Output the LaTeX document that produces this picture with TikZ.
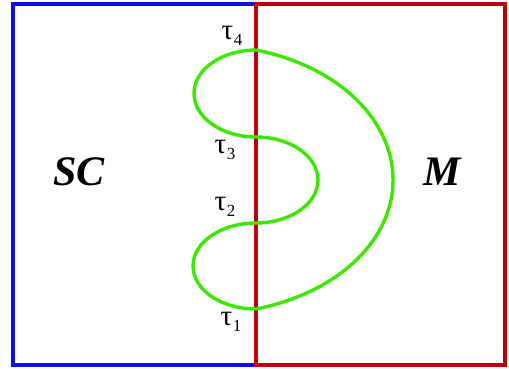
\documentclass[tikz,border=0pt]{standalone}
\usepackage{fontspec}
\setmainfont{Liberation Serif}

\definecolor{scblue}{RGB}{15,15,235}
\definecolor{mred}{RGB}{185,0,10}
\definecolor{pathgreen}{RGB}{60,232,0}

\newcommand{\taulab}[1]{τ\kern0.5pt\raisebox{-0.45ex}{\fontsize{17}{17}\selectfont #1}}

\begin{document}
\begin{tikzpicture}[
    x=1pt, y=-1pt,
    region/.style={line width=3.3pt},
    orbit/.style={draw=pathgreen, line width=3.4pt, line join=round},
    tlabel/.style={font=\fontsize{29}{32}\selectfont},
    setname/.style={font=\fontsize{42}{46}\selectfont\bfseries\itshape}
  ]
    \useasboundingbox (0,0) rectangle (509,369);

    % the two regions
    \draw[region, draw=scblue] (13,4) rectangle (256,365);
    \draw[region, draw=mred] (256,4) rectangle (505,365);

    % crossing points on the common edge
    \coordinate (t4) at (256,50);
    \coordinate (t3) at (256,137);
    \coordinate (t2) at (256,223);
    \coordinate (t1) at (256,309);
    \coordinate (far) at (393,180);

    \draw[orbit] (t4) arc[start angle=90, end angle=270, x radius=62pt, y radius=43.5pt]
      arc[start angle=90, end angle=-90, x radius=62pt, y radius=43pt]
      arc[start angle=90, end angle=270, x radius=63pt, y radius=43pt]
      .. controls (337,293) and (393,241) .. (far)
      .. controls (393,119) and (337,66) .. (t4);

    \node[tlabel] (l4) at (232,36) {\taulab{4}};
    \node[tlabel] (l3) at (225,150) {\taulab{3}};
    \node[tlabel] (l2) at (225,207) {\taulab{2}};
    \node[tlabel] (l1) at (231,322) {\taulab{1}};

    \node[setname] (sc) at (79,172) {SC};
    \node[setname] (m) at (442,172) {M};
  \end{tikzpicture}
\end{document}
